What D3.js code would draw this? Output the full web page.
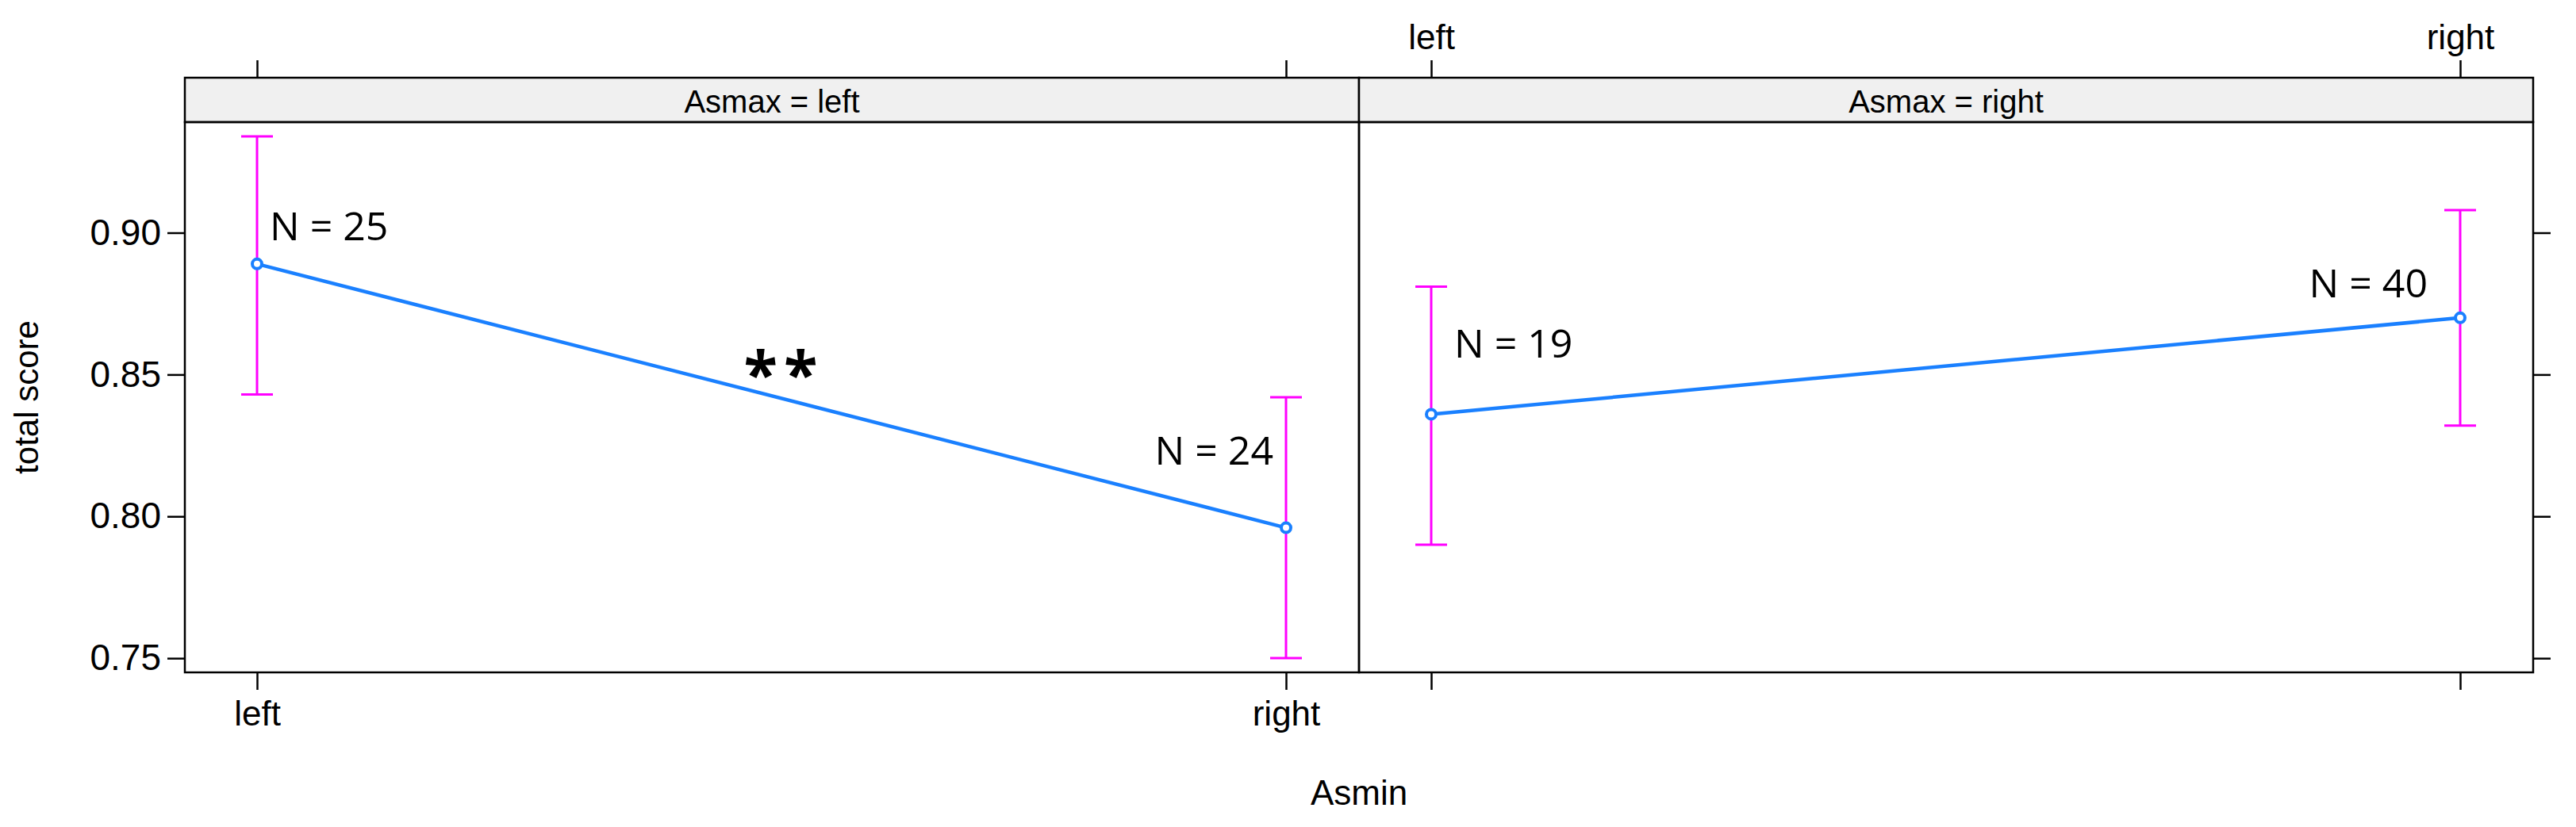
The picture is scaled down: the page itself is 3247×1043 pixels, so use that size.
<!DOCTYPE html>
<html><head><meta charset="utf-8">
<script src="https://cdn.jsdelivr.net/npm/d3@7"></script>
<style>body{margin:0;background:#fff}</style></head>
<body><svg id="c" width="3247" height="1043"></svg>
<script>
const panels = ["left", "right"];
const categories = ["left", "right"];
const fitValues = [[0.889, 0.796], [0.836, 0.870]];
const upperValues = [[0.934, 0.842], [0.881, 0.908]];
const lowerValues = [[0.843, 0.750], [0.790, 0.832]];
const nLabels = [["N = 25", "N = 24"], ["N = 19", "N = 40"]];
const yTicks = [0.75, 0.80, 0.85, 0.90];

(function(){
const svg = d3.select("#c");
const font = "Liberation Sans, Arial, sans-serif";
const pTop = 154, pBottom = 848, stripTop = 98;
const panelX = [[233, 1713], [1713, 3193]];
const y = d3.scaleLinear().domain([0.745, 0.939]).range([pBottom, pTop]);
const xs = [
  d3.scalePoint().domain(categories).range([324, 1621]),
  d3.scalePoint().domain(categories).range([1804, 3101])
];

const yl = svg.append("g").attr("transform", `translate(${panelX[0][0]},0)`)
  .call(d3.axisLeft(y).tickValues(yTicks).tickFormat(d3.format(".2f")).tickSize(22).tickPadding(8));
yl.select(".domain").remove();
yl.selectAll("line").attr("stroke", "#000").attr("stroke-width", 2.5);
yl.selectAll("text").attr("font-family", font).attr("font-size", 46).attr("fill", "#000");
const yr = svg.append("g").attr("transform", `translate(${panelX[1][1]},0)`)
  .call(d3.axisRight(y).tickValues(yTicks).tickSize(22).tickFormat(""));
yr.select(".domain").remove();
yr.selectAll("line").attr("stroke", "#000").attr("stroke-width", 2.5);

svg.append("text").attr("transform", `translate(48,${(pTop+pBottom)/2}) rotate(-90)`)
  .attr("text-anchor", "middle").attr("font-family", font).attr("font-size", 42).text("total score");

panels.forEach((p, i) => {
  const [x0, x1] = panelX[i];
  const x = xs[i];
  svg.append("rect").attr("x", x0).attr("y", stripTop).attr("width", x1 - x0).attr("height", pTop - stripTop)
    .attr("fill", "#f0f0f0").attr("stroke", "#000").attr("stroke-width", 2.5);
  svg.append("text").attr("x", (x0 + x1) / 2).attr("y", pTop - 12).attr("text-anchor", "middle")
    .attr("font-family", font).attr("font-size", 40).text(`Asmax = ${p}`);
  svg.append("rect").attr("x", x0).attr("y", pTop).attr("width", x1 - x0).attr("height", pBottom - pTop)
    .attr("fill", "none").attr("stroke", "#000").attr("stroke-width", 2.5);
  const xb = svg.append("g").attr("transform", `translate(0,${pBottom})`)
    .call(d3.axisBottom(x).tickSize(22).tickPadding(14).tickFormat(i === 0 ? (d => d) : ""));
  xb.select(".domain").remove();
  xb.selectAll("line").attr("stroke", "#000").attr("stroke-width", 2.5);
  xb.selectAll("text").attr("font-family", font).attr("font-size", 44).attr("fill", "#000");
  const xt = svg.append("g").attr("transform", `translate(0,${stripTop})`)
    .call(d3.axisTop(x).tickSize(22).tickPadding(14).tickFormat(i === 1 ? (d => d) : ""));
  xt.select(".domain").remove();
  xt.selectAll("line").attr("stroke", "#000").attr("stroke-width", 2.5);
  xt.selectAll("text").attr("font-family", font).attr("font-size", 44).attr("fill", "#000");

  const g = svg.append("g");
  categories.forEach((c, j) => {
    const cx = x(c);
    g.append("line").attr("x1", cx).attr("x2", cx).attr("y1", y(upperValues[i][j])).attr("y2", y(lowerValues[i][j]))
      .attr("stroke", "#ff00ff").attr("stroke-width", 3);
    [upperValues[i][j], lowerValues[i][j]].forEach(v => {
      g.append("line").attr("x1", cx - 20).attr("x2", cx + 20).attr("y1", y(v)).attr("y2", y(v))
        .attr("stroke", "#ff00ff").attr("stroke-width", 3);
    });
  });
  g.append("path").datum(categories.map((c, j) => [x(c), y(fitValues[i][j])]))
    .attr("d", d3.line()).attr("stroke", "#1a80ff").attr("stroke-width", 4.5).attr("fill", "none");
  categories.forEach((c, j) => {
    g.append("circle").attr("cx", x(c)).attr("cy", y(fitValues[i][j])).attr("r", 6)
      .attr("fill", "#fff").attr("stroke", "#1a80ff").attr("stroke-width", 4);
  });
});

const nf = "Open Sans, Noto Sans, sans-serif";
const ann = [
  [0, 0, 340, 303, "start"], [0, 1, 1605, 586, "end"],
  [1, 0, 1833, 451, "start"], [1, 1, 3060, 375, "end"]
];
ann.forEach(([i, j, ax, ay, anchor]) => {
  svg.append("text").attr("x", ax).attr("y", ay).attr("text-anchor", anchor)
    .attr("font-family", nf).attr("font-size", 50).text(nLabels[i][j]);
});
svg.append("text").attr("x", 988).attr("y", 500).attr("text-anchor", "middle")
  .attr("font-family", nf).attr("font-weight", "bold").attr("font-size", 78).attr("letter-spacing", 8).text("**");

svg.append("text").attr("x", 1713).attr("y", 1015).attr("text-anchor", "middle")
  .attr("font-family", font).attr("font-size", 44).text("Asmin");
})();
</script></body></html>
